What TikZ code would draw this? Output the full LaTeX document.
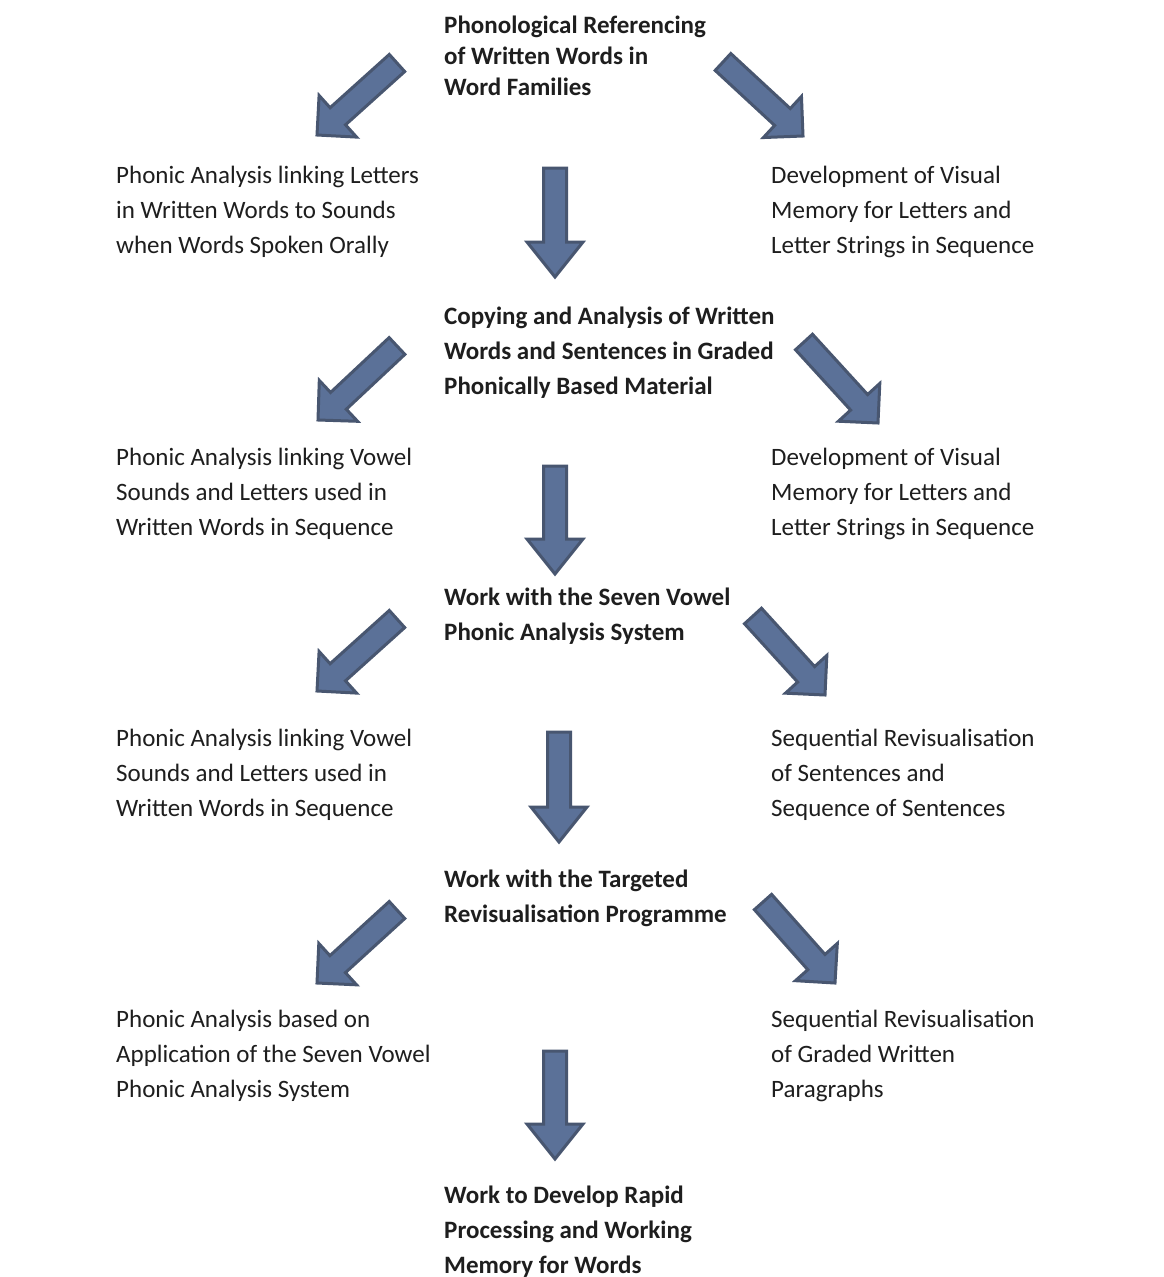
\documentclass[tikz,border=0pt]{standalone}
\usepackage{fontspec}
\setmainfont{Carlito}
\usetikzlibrary{calc}
\definecolor{arrowfill}{RGB}{91,113,152}
\definecolor{arrowedge}{RGB}{72,86,112}
\definecolor{txtcol}{RGB}{30,30,30}
\tikzset{
  blockarrow/.style={fill=arrowfill, draw=arrowedge, line width=3pt, line join=miter},
  txt/.style={anchor=base west, align=left, inner sep=0pt, text=txtcol,
              font=\fontsize{25}{35}\selectfont},
  boldtxt/.style={txt, font=\fontsize{25}{35}\selectfont\bfseries},
}
% #1 tail coordinate, #2 tip coordinate, #3 head length
\newcommand{\blockarr}[3]{%
  \coordinate (#1h) at ($(#2)!#3!(#1)$);
  \draw[blockarrow] ($(#1)!11.5pt!90:(#2)$) -- ($(#1h)!11.5pt!-90:(#1)$)
    -- ($(#1h)!28pt!-90:(#1)$) -- (#2) -- ($(#1h)!28pt!90:(#1)$)
    -- ($(#1h)!11.5pt!90:(#1)$) -- ($(#1)!11.5pt!-90:(#2)$) -- cycle;}
\begin{document}
\begin{tikzpicture}[x=1pt, y=-1pt]
\useasboundingbox[fill=white] (0,0) rectangle (1164,1277);

% central bold texts (anchored at the baseline of their last line)
\node[boldtxt, font=\fontsize{25}{31}\selectfont\bfseries] (b1) at (444,95) {Phonological Referencing\\of Written Words in\\Word Families};
\node[boldtxt] (b2) at (444,394) {Copying and Analysis of Written\\Words and Sentences in Graded\\Phonically Based Material};
\node[boldtxt] (b3) at (444,640) {Work with the Seven Vowel\\Phonic Analysis System};
\node[boldtxt] (b4) at (444,922) {Work with the Targeted\\Revisualisation Programme};
\node[boldtxt] (b5) at (444,1273) {Work to Develop Rapid\\Processing and Working\\Memory for Words};

% left texts
\node[txt] (l1) at (116,253) {Phonic Analysis linking Letters\\in Written Words to Sounds\\when Words Spoken Orally};
\node[txt] (l2) at (116,535) {Phonic Analysis linking Vowel\\Sounds and Letters used in\\Written Words in Sequence};
\node[txt] (l3) at (116,816) {Phonic Analysis linking Vowel\\Sounds and Letters used in\\Written Words in Sequence};
\node[txt] (l4) at (116,1097) {Phonic Analysis based on\\Application of the Seven Vowel\\Phonic Analysis System};

% right texts
\node[txt] (r1) at (771,253) {Development of Visual\\Memory for Letters and\\Letter Strings in Sequence};
\node[txt] (r2) at (771,535) {Development of Visual\\Memory for Letters and\\Letter Strings in Sequence};
\node[txt] (r3) at (771,816) {Sequential Revisualisation\\of Sentences and\\Sequence of Sentences};
\node[txt] (r4) at (771,1097) {Sequential Revisualisation\\of Graded Written\\Paragraphs};

% arrow coordinates
\coordinate (d1t) at (555,168);  \coordinate (d1h) at (555,277);
\coordinate (d2t) at (555,466);  \coordinate (d2h) at (555,574);
\coordinate (d3t) at (559,732);  \coordinate (d3h) at (559,842);
\coordinate (d4t) at (555,1051); \coordinate (d4h) at (555,1159);
\coordinate (L1t) at (397,63);   \coordinate (L1h) at (317,135);
\coordinate (R1t) at (723,62);   \coordinate (R1h) at (803,136);
\coordinate (L2t) at (397,346);  \coordinate (L2h) at (318,420);
\coordinate (R2t) at (804,342);  \coordinate (R2h) at (878,423);
\coordinate (L3t) at (397,619);  \coordinate (L3h) at (317,691);
\coordinate (R3t) at (753,616);  \coordinate (R3h) at (825,695);
\coordinate (L4t) at (397,910);  \coordinate (L4h) at (317,983);
\coordinate (R4t) at (763,902);  \coordinate (R4h) at (835,983);

\blockarr{d1t}{d1h}{35pt}
\blockarr{d2t}{d2h}{35pt}
\blockarr{d3t}{d3h}{35pt}
\blockarr{d4t}{d4h}{35pt}
\blockarr{L1t}{L1h}{28pt}
\blockarr{R1t}{R1h}{28pt}
\blockarr{L2t}{L2h}{28pt}
\blockarr{R2t}{R2h}{28pt}
\blockarr{L3t}{L3h}{28pt}
\blockarr{R3t}{R3h}{28pt}
\blockarr{L4t}{L4h}{28pt}
\blockarr{R4t}{R4h}{28pt}
\end{tikzpicture}
\end{document}
